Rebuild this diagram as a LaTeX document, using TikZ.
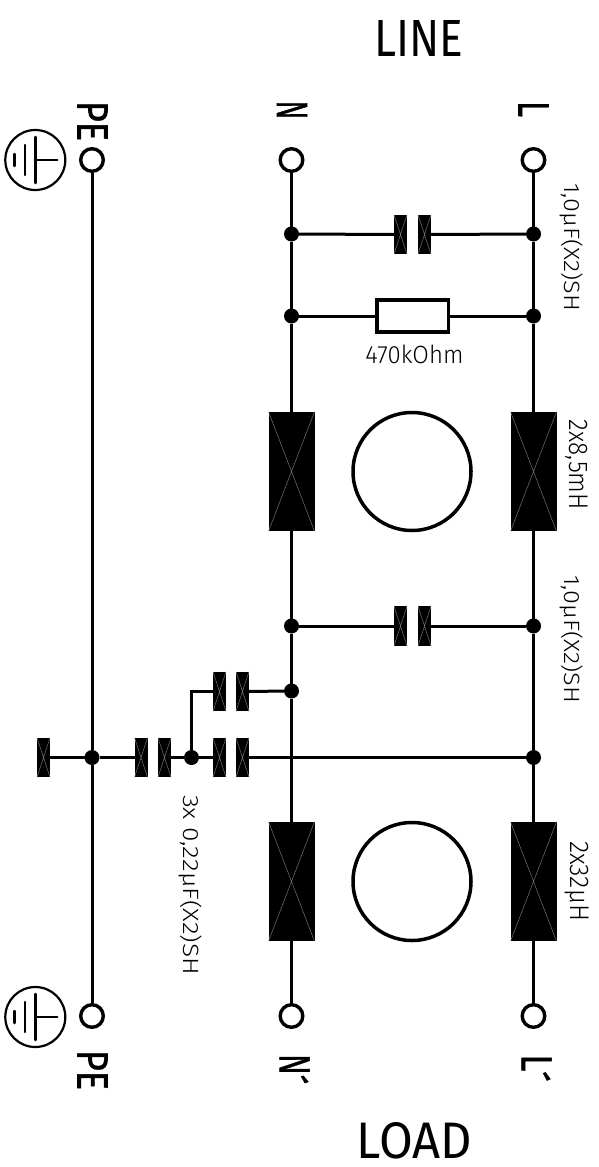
\documentclass[tikz,border=0pt]{standalone}
\usepackage{fontspec}
\usetikzlibrary{calc}
\setmainfont{Fira Sans Light}
\newfontfamily\boldlab{Fira Sans}
\newfontfamily\heavylab{Fira Sans}[FakeBold=1.2]
\usepackage{graphicx}
\newcommand{\thinlab}[3]{\resizebox{#1pt}{#2pt}{#3}}
\newcommand{\boldtext}[3]{\resizebox{#1pt}{#2pt}{\heavylab #3}}
\newcommand{\tick}{\raisebox{-0.14em}{\smash{´}}}
\tikzset{
  wire/.style={line width=3pt,line join=miter},
  term/.style={circle,draw,line width=3.4pt,fill=white,minimum size=22.6pt,inner sep=0pt,outer sep=1.7pt},
  dotn/.style={circle,fill=black,minimum size=15pt,inner sep=0pt,outer sep=0pt},
  xbox/.style={rectangle,fill=black,inner sep=0pt,outer sep=0pt,
    path picture={\draw[black!55,line width=0.5pt]
      (path picture bounding box.north west)--(path picture bounding box.south east)
      (path picture bounding box.north east)--(path picture bounding box.south west);}},
  plate/.style={xbox,minimum width=13pt,minimum height=39.5pt},
  choke/.style={xbox,minimum width=46pt,minimum height=119.5pt},
  res/.style={rectangle,draw,line width=3.5pt,fill=white,minimum width=71.5pt,minimum height=32pt,inner sep=0pt,outer sep=1.75pt},
  core/.style={circle,draw,line width=3.5pt,minimum size=118pt,inner sep=0pt},
  gnd/.style={circle,draw,line width=2.2pt,minimum size=60pt,inner sep=0pt,outer sep=0pt},
  gline/.style={line width=2.5pt,line cap=round},
  vlab/.style={rotate=-90,inner sep=0pt,outer sep=0pt,anchor=center},
  hlab/.style={inner sep=0pt,outer sep=0pt,anchor=center}
}
\begin{document}
\begin{tikzpicture}[x=1pt,y=-1pt]
\useasboundingbox (0,0) rectangle (599,1167);
% terminals
\node[term] (tPE) at (92,160) {};
\node[term] (tN) at (291.5,160) {};
\node[term] (tL) at (533.5,160) {};
\node[term] (tPEb) at (92,1016) {};
\node[term] (tNb) at (291.5,1016) {};
\node[term] (tLb) at (533.5,1016) {};
% junctions
\node[dotn] (dN1) at (291.5,234) {};
\node[dotn] (dL1) at (533.5,234) {};
\node[dotn] (dN2) at (291.5,316) {};
\node[dotn] (dL2) at (533.5,316) {};
\node[dotn] (dN3) at (291.5,626) {};
\node[dotn] (dL3) at (533.5,626) {};
\node[dotn] (dN4) at (291.5,691) {};
\node[dotn] (dL4) at (533.5,757.5) {};
\node[dotn] (dP) at (92,757.5) {};
\node[dotn] (dM) at (191.5,757.5) {};
% chokes
\node[choke] (cN1) at (291.5,471.5) {};
\node[choke] (cL1) at (533.5,471.5) {};
\node[choke] (cN2) at (291.5,881.5) {};
\node[choke] (cL2) at (533.5,881.5) {};
\node[core] (core1) at (412,471.5) {};
\node[core] (core2) at (412,881.5) {};
% capacitors
\node[plate] (c1a) at (400.5,234.5) {};
\node[plate] (c1b) at (424.5,234.5) {};
\node[plate] (c2a) at (400.5,626) {};
\node[plate] (c2b) at (424.5,626) {};
\node[plate] (c3a) at (219.5,691.5) {};
\node[plate] (c3b) at (242.5,691.5) {};
\node[plate] (c4a) at (219.5,757.5) {};
\node[plate] (c4b) at (242.5,757.5) {};
\node[plate] (c5a) at (141,757.5) {};
\node[plate] (c5b) at (164.5,757.5) {};
\node[plate] (c6) at (43.5,757.5) {};
\node[res] (r1) at (412.5,316) {};
% wires
\draw[wire] (tPE) -- (dP) -- (tPEb);
\draw[wire] (tN) -- (dN1) -- (dN2) -- (cN1) -- (dN3) -- (dN4) -- (cN2) -- (tNb);
\draw[wire] (tL) -- (dL1) -- (dL2) -- (cL1) -- (dL3) -- (dL4) -- (cL2) -- (tLb);
\draw[wire] (dN1) -- (c1a);
\draw[wire] (c1b) -- (dL1);
\draw[wire] (dN2) -- (r1);
\draw[wire] (r1) -- (dL2);
\draw[wire] (dN3) -- (c2a);
\draw[wire] (c2b) -- (dL3);
\draw[wire] (dN4) -- (c3b);
\draw[wire] (dM) |- (c3a);
\draw[wire] (c6) -- (dP);
\draw[wire] (dP) -- (c5a);
\draw[wire] (c5b) -- (dM);
\draw[wire] (dM) -- (c4a);
\draw[wire] (c4b) -- (dL4);
% earth symbols
\foreach \nm/\yy in {gA/160,gB/1017}{
  \node[gnd] (\nm) at (35.3,\yy) {};
  \draw[gline] (\nm.center) -- ++(22,0);
  \draw[gline] ($(\nm.center)+(0,-23)$) -- ($(\nm.center)+(0,23)$);
  \draw[gline] ($(\nm.center)+(-10.5,-15)$) -- ($(\nm.center)+(-10.5,15)$);
  \draw[gline] ($(\nm.center)+(-21,-6)$) -- ($(\nm.center)+(-21,6)$);
}
% texts
\node[hlab] (tLine) at (418.5,38.5) {\resizebox{89pt}{36pt}{\boldlab LINE}};
\node[hlab] (tLoad) at (414.5,1140.5) {\resizebox{115pt}{36pt}{\boldlab LOAD}};
\node[vlab] (lPE) at (92.5,121) {\boldtext{40}{30}{PE}};
\node[vlab] (lN) at (292,110) {\boldtext{19}{30}{N}};
\node[vlab] (lL) at (533.5,109) {\boldtext{16}{30}{L}};
\node[vlab] (lPEb) at (92.5,1070) {\boldtext{40}{30}{PE}};
\node[vlab] (lNb) at (291.5,1069) {\boldtext{30}{30}{N\tick}};
\node[vlab] (lLb) at (533.5,1068) {\boldtext{27}{30}{L\tick}};
\node[vlab] (lC1) at (571.5,247) {\thinlab{128}{18.5}{1,0µF(X2)SH}};
\node[vlab] (lC2) at (571.5,639) {\thinlab{128}{18.5}{1,0µF(X2)SH}};
\node[vlab] (lC3) at (190.5,885) {\thinlab{180}{18.5}{3x 0,22µF(X2)SH}};
\node[hlab] (lR) at (414.5,354.5) {\thinlab{98}{18.5}{470kOhm}};
\node[vlab] (lI1) at (577,465) {\thinlab{90}{18.5}{2x8,5mH}};
\node[vlab] (lI2) at (577,881) {\thinlab{80}{18.5}{2x32µH}};
\end{tikzpicture}
\end{document}
